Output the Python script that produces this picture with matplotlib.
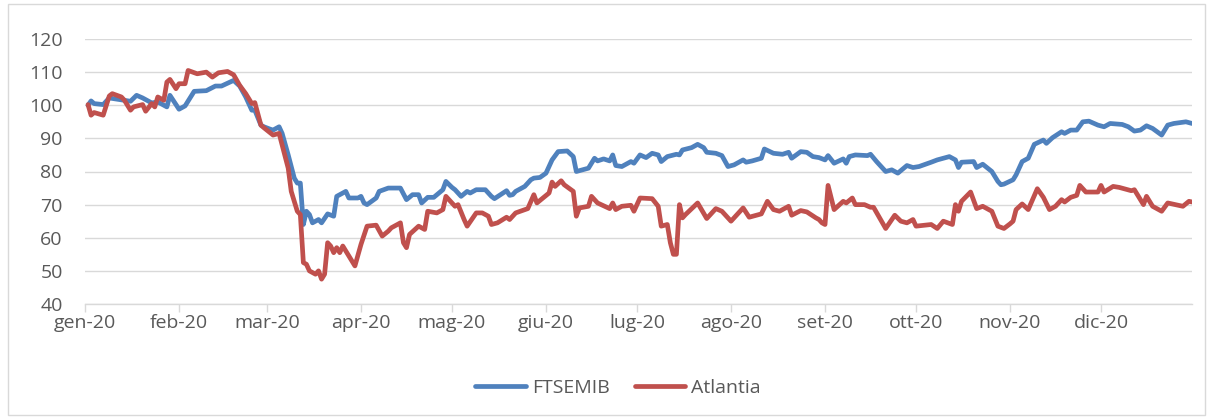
import numpy as np
import matplotlib
matplotlib.use("Agg")
import matplotlib.pyplot as plt
from matplotlib.patches import Rectangle

# ---- data (day of year offset from 2020-01-01, value) ----
ftse_days = [1, 2, 3, 6, 8, 13, 15, 17, 19, 22, 24, 27, 28, 31, 33, 36, 40, 43, 45, 49,
             51, 53, 55, 56, 58, 59, 61, 62, 64, 65, 67, 69, 70, 71, 72, 73, 74, 75, 77,
             78, 80, 82, 83, 86, 87, 90, 91, 92, 93, 96, 97, 100, 104, 106, 108, 110,
             111, 113, 115, 118, 119, 121, 122, 124, 126, 127, 129, 132, 134, 135, 139,
             140, 141, 142, 145, 147, 148, 150, 152, 154, 156, 159, 161, 162, 164, 166,
             168, 169, 171, 173, 174, 175, 177, 179, 180, 181, 183, 185, 187, 189, 190,
             192, 195, 196, 197, 200, 202, 204, 205, 208, 210, 212, 214, 217, 218, 220,
             223, 224, 227, 230, 232, 233, 236, 238, 240, 242, 244, 245, 247, 250, 251,
             252, 254, 258, 259, 261, 264, 266, 268, 271, 273, 275, 279, 281, 285, 287,
             288, 289, 293, 294, 296, 299, 301, 302, 303, 306, 307, 309, 311, 313, 316,
             317, 319, 322, 323, 325, 327, 329, 331, 334, 336, 338, 342, 344, 346, 348,
             350, 352, 355, 357, 359, 363, 365]
ftse_vals = [100.0, 101.3, 100.5, 100.2, 102.2, 101.5, 101.2, 103.0, 102.2, 100.7, 101.0,
             99.5, 103.0, 98.8, 99.8, 104.2, 104.4, 105.8, 105.8, 107.5, 105.8, 102.5,
             98.5, 98.5, 94.0, 93.5, 92.8, 92.5, 93.5, 91.5, 85.0, 78.0, 76.5, 76.5, 64.0,
             68.0, 67.0, 64.5, 65.5, 64.5, 67.2, 66.5, 72.5, 74.0, 72.0, 72.0, 72.5, 70.5,
             70.0, 72.0, 74.0, 75.0, 75.0, 71.5, 73.0, 73.0, 70.5, 72.2, 72.2, 74.5, 77.0,
             75.2, 74.5, 72.5, 74.0, 73.5, 74.5, 74.5, 72.5, 71.8, 74.2, 72.8, 73.0, 74.0,
             75.5, 77.5, 78.0, 78.2, 79.5, 83.5, 86.0, 86.2, 84.5, 80.0, 80.5, 81.0, 84.0,
             83.2, 83.8, 83.2, 85.0, 81.8, 81.5, 82.5, 83.0, 82.5, 85.0, 84.2, 85.5, 85.0,
             83.0, 84.5, 85.2, 85.0, 86.5, 87.2, 88.2, 87.2, 85.8, 85.5, 84.8, 81.5, 82.0,
             83.5, 82.8, 83.2, 84.0, 86.8, 85.5, 85.2, 85.8, 84.0, 86.0, 85.8, 84.5, 84.2,
             83.5, 84.8, 82.5, 83.8, 82.5, 84.5, 85.0, 84.8, 85.2, 83.0, 80.0, 80.5, 79.5,
             81.8, 81.2, 81.5, 82.8, 83.5, 84.5, 83.5, 81.2, 82.8, 83.0, 81.2, 82.2, 80.0,
             77.0, 76.0, 76.2, 77.5, 79.0, 83.0, 84.0, 88.2, 89.5, 88.5, 90.2, 92.0, 91.5,
             92.5, 92.5, 95.0, 95.2, 94.0, 93.5, 94.5, 94.2, 93.5, 92.2, 92.5, 93.8, 93.0,
             91.0, 94.0, 94.5, 95.0, 94.5]

atl_days = [1, 2, 3, 6, 8, 9, 12, 13, 15, 16, 19, 20, 22, 23, 24, 26, 27, 28, 30, 31, 33,
            34, 37, 40, 42, 44, 47, 49, 51, 53, 55, 56, 58, 59, 62, 64, 65, 67, 68, 70, 71,
            72, 73, 74, 76, 77, 78, 79, 80, 81, 82, 83, 84, 85, 86, 89, 91, 93, 96, 98,
            100, 101, 104, 105, 106, 107, 110, 112, 113, 116, 118, 119, 122, 123, 125,
            126, 129, 131, 133, 134, 136, 139, 140, 142, 146, 148, 149, 153, 154, 155,
            157, 158, 161, 162, 163, 166, 167, 169, 173, 174, 175, 177, 180, 181, 183,
            187, 189, 190, 192, 193, 194, 195, 196, 197, 198, 202, 205, 208, 210, 213,
            217, 219, 223, 225, 227, 229, 232, 233, 236, 238, 241, 242, 243, 244, 245,
            247, 250, 251, 253, 254, 257, 259, 260, 264, 267, 269, 271, 273, 274, 279,
            281, 283, 286, 287, 288, 289, 292, 294, 296, 299, 301, 303, 305, 306, 307,
            309, 311, 314, 316, 318, 320, 322, 323, 325, 327, 328, 330, 334, 335, 336,
            339, 341, 345, 346, 349, 350, 352, 355, 357, 362, 364, 365]
atl_vals = [100.2, 97.0, 97.8, 97.0, 102.8, 103.5, 102.5, 101.5, 98.5, 99.5, 100.2, 98.2,
            100.5, 99.5, 102.5, 101.5, 107.0, 107.8, 105.0, 106.5, 106.5, 110.5, 109.5,
            110.0, 108.5, 109.8, 110.2, 109.2, 106.0, 103.5, 100.5, 100.8, 94.0, 93.2,
            91.0, 91.5, 88.0, 81.0, 74.0, 68.0, 67.0, 52.5, 52.0, 50.0, 49.0, 50.0, 47.5,
            49.0, 58.5, 57.5, 55.5, 57.0, 55.5, 57.5, 56.0, 51.5, 58.0, 63.5, 63.8, 60.5,
            62.0, 63.0, 64.5, 58.5, 57.0, 61.0, 63.5, 62.5, 68.0, 67.5, 68.5, 72.5, 69.5,
            70.0, 65.5, 63.5, 67.5, 67.5, 66.5, 64.0, 64.5, 66.2, 65.5, 67.5, 68.8, 73.0,
            70.5, 73.5, 76.8, 75.5, 77.2, 76.0, 74.0, 66.5, 69.0, 69.5, 72.5, 70.5, 68.8,
            70.5, 68.5, 69.5, 69.8, 68.0, 72.0, 71.8, 69.5, 63.5, 64.0, 58.5, 55.0, 55.0,
            70.0, 66.0, 67.0, 70.5, 65.8, 68.8, 68.0, 65.0, 69.0, 66.2, 67.2, 71.0, 68.5,
            68.0, 69.5, 66.8, 68.2, 67.8, 66.0, 65.5, 64.5, 64.0, 75.8, 68.5, 71.0, 70.5,
            72.0, 70.0, 70.0, 69.2, 69.2, 62.8, 66.8, 65.0, 64.5, 65.5, 63.5, 64.0, 62.8,
            65.0, 64.0, 70.0, 68.0, 71.0, 73.8, 68.8, 69.5, 68.0, 63.5, 62.8, 64.2, 65.0,
            68.5, 70.2, 68.5, 74.8, 72.2, 68.5, 69.5, 71.5, 70.8, 72.2, 72.8, 75.8, 73.8,
            73.8, 75.8, 73.8, 75.5, 75.2, 74.2, 74.5, 70.0, 72.5, 69.5, 68.0, 70.5, 69.5,
            71.0, 70.8]

month_labels = ["gen-20", "feb-20", "mar-20", "apr-20", "mag-20", "giu-20",
                "lug-20", "ago-20", "set-20", "ott-20", "nov-20", "dic-20"]
series_names = ["FTSEMIB", "Atlantia"]

# ---- build dates ----
base = np.datetime64("2020-01-01")
ftse_dates = base + np.array(ftse_days, dtype="timedelta64[D]")
atl_dates = base + np.array(atl_days, dtype="timedelta64[D]")
month_starts = np.arange(np.datetime64("2020-01"), np.datetime64("2021-01"),
                         dtype="datetime64[M]").astype("datetime64[D]")

plt.rcParams["font.family"] = ["Open Sans", "DejaVu Sans"]
TXT = "#595959"
GRID = "#D9D9D9"
BLUE = "#4F81BD"
RED = "#C0504D"
FS = 14

W, H = 1209, 417
fig = plt.figure(figsize=(W / 100, H / 100), dpi=100)
fig.patches.append(Rectangle((8 / W, 2 / H), (W - 12) / W, (H - 6) / H,
                             transform=fig.transFigure, fill=False,
                             edgecolor=GRID, linewidth=1.0))

ax = fig.add_axes([85 / W, 1 - 304 / H, (1192 - 85) / W, (304 - 39) / H])
l1, = ax.plot(ftse_dates, ftse_vals, color=BLUE, linewidth=3.4,
              solid_joinstyle="round", solid_capstyle="round")
l2, = ax.plot(atl_dates, atl_vals, color=RED, linewidth=3.4,
              solid_joinstyle="round", solid_capstyle="round")

ax.set_ylim(40, 120)
ax.set_yticks(np.arange(40, 121, 10))
ax.set_xlim(np.datetime64("2020-01-01"), np.datetime64("2020-12-31"))
ax.set_xticks(month_starts)
ax.set_xticklabels(month_labels)

ax.grid(axis="y", color=GRID, linewidth=1.0)
ax.set_axisbelow(True)
for s in ["top", "right", "left"]:
    ax.spines[s].set_visible(False)
ax.spines["bottom"].set_color(GRID)
ax.spines["bottom"].set_linewidth(1.0)

ax.tick_params(axis="y", length=0, pad=16, labelsize=FS, labelcolor=TXT)
ax.tick_params(axis="x", length=5.5, width=1.0, color=GRID, pad=2,
               labelsize=FS, labelcolor=TXT)

fig.legend([l1, l2], series_names, loc="center", ncol=2,
           bbox_to_anchor=(618 / W, 1 - 388 / H), frameon=False,
           fontsize=FS, labelcolor=TXT, handlelength=2.6,
           handletextpad=0.3, columnspacing=1.3)

fig.savefig("out.png", dpi=100)
